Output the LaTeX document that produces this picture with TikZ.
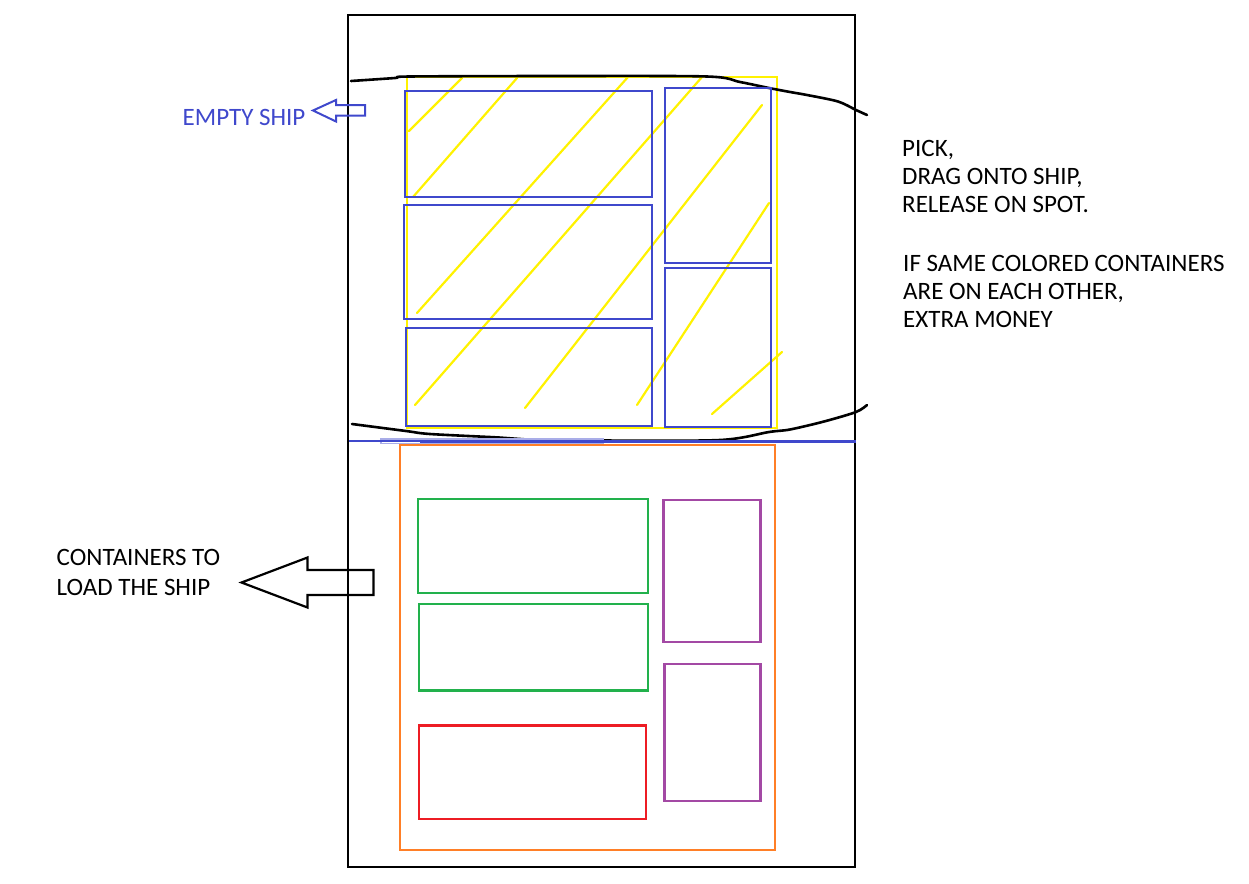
\documentclass[tikz,border=0pt]{standalone}
\usepackage{fontspec}
\setmainfont{Carlito}
\definecolor{pblue}{RGB}{63,72,204}
\definecolor{pyellow}{RGB}{255,242,0}
\definecolor{porange}{RGB}{255,127,39}
\definecolor{pgreen}{RGB}{34,177,76}
\definecolor{pred}{RGB}{237,28,36}
\definecolor{ppurple}{RGB}{163,73,164}
\tikzset{
  frame/.style={draw=black,line width=2.2pt},
  shipline/.style={draw=black,line width=2.6pt,line cap=round,line join=round},
  bluebox/.style={draw=pblue,line width=2.6pt},
  hatch/.style={draw=pyellow,line width=2.2pt,line cap=round},
  yellowbox/.style={draw=pyellow,line width=2.6pt},
  orangebox/.style={draw=porange,line width=2.6pt},
  greenbox/.style={draw=pgreen,line width=2.6pt},
  redbox/.style={draw=pred,line width=2.6pt},
  purplebox/.style={draw=ppurple,line width=2.6pt},
  blockarrow/.style={draw=black,line width=2.2pt,line join=miter},
  bluearrow/.style={draw=pblue,line width=2pt,line join=miter},
  lbl/.style={anchor=base west,inner sep=0pt,font=\fontsize{25}{30}\selectfont,text=black},
  bluelbl/.style={lbl,text=pblue}
}
\begin{document}
\begin{tikzpicture}[x=1pt,y=-1pt]
\useasboundingbox (0,0) rectangle (1249,883);
% outer frame
\draw[frame] (348,15) rectangle (855,867);
% yellow hatched area
\draw[yellowbox] (407,77) rectangle (777,428);
\draw[hatch] (409,131) -- (462,78);
\draw[hatch] (413,197) -- (517,78);
\draw[hatch] (417,313) -- (628,77);
\draw[hatch] (415,405) -- (702,77);
\draw[hatch] (525,408) -- (762,105);
\draw[hatch] (637,405) -- (769,203);
\draw[hatch] (712,414) -- (782,352);
% ship outline
\draw[shipline] plot[smooth,tension=0.5] coordinates {(351,81) (395,78) (410,76.5) (560,76) (707,76.5) (740,82) (769,88) (790,92) (807,95) (838,101.5) (856,110) (867,115)};
\draw[shipline] plot[smooth,tension=0.5] coordinates {(352,424) (406,431) (430,434) (499,437.5) (527,439.5) (600,440.5) (720,440) (769,432) (790,429.5) (824,421.5) (856,412) (867,405)};
% blue containers on ship
\draw[bluebox] (405,91) rectangle (652,197);
\draw[bluebox] (404,205) rectangle (652,319);
\draw[bluebox] (406,328) rectangle (652,426);
\draw[bluebox] (665,88) rectangle (771,263);
\draw[bluebox] (665,268) rectangle (771,427);
% blue deck line
\draw[draw=pblue!45,line width=1.2pt] (381,439) rectangle (603,443.5);
\draw[draw=pblue,line width=2pt] (348.5,440.5) -- (856,440.5);
\draw[draw=pblue,line width=3.6pt] (420,441.5) -- (856,441.5);
% lower area
\draw[orangebox] (400,445) rectangle (775,850);
\draw[greenbox] (418,499) rectangle (648,593);
\draw[greenbox] (419,604) rectangle (648,690.5);
\draw[redbox] (419,725.5) rectangle (646,819);
\draw[purplebox] (663.5,500) rectangle (760.5,642);
\draw[purplebox] (664.5,664) rectangle (760.5,801);
% arrows
\draw[bluearrow] (313,110.5) -- (336,100) -- (336,105) -- (365,105) -- (365,115.5) -- (336,115.5) -- (336,121.5) -- cycle;
\draw[blockarrow] (241.5,582.5) -- (307.5,557.5) -- (307.5,570) -- (373.5,570) -- (373.5,595) -- (307.5,595) -- (307.5,607.5) -- cycle;
% labels
\node[bluelbl] (empty) at (182.5,125) {EMPTY SHIP};
\node[lbl] (c1) at (56.5,565) {CONTAINERS TO};
\node[lbl] (c2) at (56.5,595) {LOAD THE SHIP};
\node[lbl] (p1) at (902,156) {PICK,};
\node[lbl] (p2) at (902,184) {DRAG ONTO SHIP,};
\node[lbl] (p3) at (902,212) {RELEASE ON SPOT.};
\node[lbl] (s1) at (903,271) {IF SAME COLORED CONTAINERS};
\node[lbl] (s2) at (903,299) {ARE ON EACH OTHER,};
\node[lbl] (s3) at (903,327) {EXTRA MONEY};
\end{tikzpicture}
\end{document}
